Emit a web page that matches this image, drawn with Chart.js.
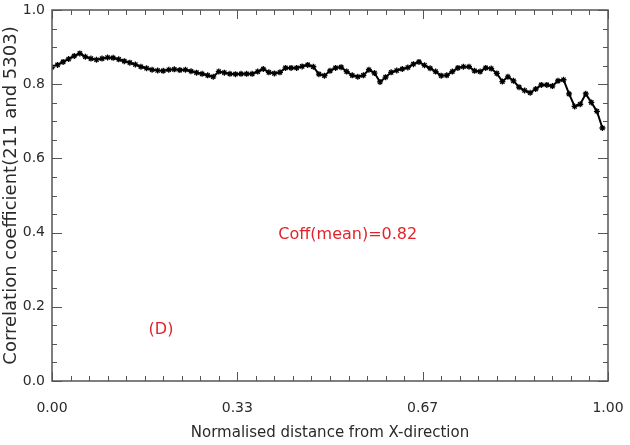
<!DOCTYPE html>
<html>
<head>
<meta charset="utf-8">
<script src="https://cdn.jsdelivr.net/npm/chart.js@4"></script>
<style>
  html, body { margin: 0; padding: 0; background: #fff; }
</style>
</head>
<body>
<canvas id="corrChart" width="630" height="445"></canvas>
<script>
const distance = [
  0.00, 0.01, 0.02, 0.03, 0.04, 0.05, 0.06, 0.07, 0.08, 0.09,
  0.10, 0.11, 0.12, 0.13, 0.14, 0.15, 0.16, 0.17, 0.18, 0.19,
  0.20, 0.21, 0.22, 0.23, 0.24, 0.25, 0.26, 0.27, 0.28, 0.29,
  0.30, 0.31, 0.32, 0.33, 0.34, 0.35, 0.36, 0.37, 0.38, 0.39,
  0.40, 0.41, 0.42, 0.43, 0.44, 0.45, 0.46, 0.47, 0.48, 0.49,
  0.50, 0.51, 0.52, 0.53, 0.54, 0.55, 0.56, 0.57, 0.58, 0.59,
  0.60, 0.61, 0.62, 0.63, 0.64, 0.65, 0.66, 0.67, 0.68, 0.69,
  0.70, 0.71, 0.72, 0.73, 0.74, 0.75, 0.76, 0.77, 0.78, 0.79,
  0.80, 0.81, 0.82, 0.83, 0.84, 0.85, 0.86, 0.87, 0.88, 0.89,
  0.90, 0.91, 0.92, 0.93, 0.94, 0.95, 0.96, 0.97, 0.98, 0.99
];

const coeff = [
  0.846, 0.852, 0.860, 0.868, 0.876, 0.883, 0.874, 0.869, 0.866, 0.869,
  0.872, 0.871, 0.867, 0.862, 0.858, 0.853, 0.847, 0.843, 0.839, 0.837,
  0.836, 0.839, 0.840, 0.838, 0.839, 0.835, 0.831, 0.828, 0.824, 0.820,
  0.834, 0.831, 0.828, 0.827, 0.828, 0.828, 0.828, 0.834, 0.841, 0.832,
  0.829, 0.832, 0.844, 0.844, 0.844, 0.848, 0.852, 0.847, 0.827, 0.823,
  0.836, 0.844, 0.846, 0.834, 0.824, 0.820, 0.824, 0.839, 0.830, 0.806,
  0.819, 0.832, 0.837, 0.841, 0.845, 0.854, 0.860, 0.851, 0.843, 0.834,
  0.823, 0.824, 0.834, 0.844, 0.847, 0.847, 0.836, 0.834, 0.844, 0.842,
  0.829, 0.807, 0.820, 0.809, 0.792, 0.783, 0.777, 0.787, 0.798, 0.798,
  0.795, 0.809, 0.812, 0.774, 0.740, 0.746, 0.774, 0.751, 0.727, 0.682
];

const xTicks = [0, 1 / 3, 2 / 3, 1];
const xTickLabels = ['0.00', '0.33', '0.67', '1.00'];
const yTicks = [0.0, 0.2, 0.4, 0.6, 0.8, 1.0];

const meanLabel = 'Coff(mean)=0.82';
const panelLabel = '(D)';

const FONT = '"DejaVu Sans", sans-serif';
const AXIS_COLOR = '#555';
const TEXT_COLOR = '#2a2a2a';
const RED = '#e3232c';

// box around the plot with inward ticks on all four sides, plus the red notes
const framePlugin = {
  id: 'frame',
  afterDraw(chart) {
    const ctx = chart.ctx;
    const xs = chart.scales.x, ys = chart.scales.y;
    const {left, right, top, bottom} = chart.chartArea;
    ctx.save();
    ctx.strokeStyle = AXIS_COLOR;
    ctx.lineWidth = 1.5;
    ctx.strokeRect(left, top, right - left, bottom - top);

    ctx.lineWidth = 1;
    ctx.beginPath();
    for (let i = 0; i <= 30; i++) {
      const px = Math.round(xs.getPixelForValue(i / 30)) + 0.5;
      const len = i % 10 === 0 ? 9 : 5;
      ctx.moveTo(px, bottom); ctx.lineTo(px, bottom - len);
      ctx.moveTo(px, top); ctx.lineTo(px, top + len);
    }
    for (let i = 0; i <= 20; i++) {
      const py = Math.round(ys.getPixelForValue(i * 0.05)) + 0.5;
      const len = i % 4 === 0 ? 10 : 5;
      ctx.moveTo(left, py); ctx.lineTo(left + len, py);
      ctx.moveTo(right, py); ctx.lineTo(right - len, py);
    }
    ctx.stroke();

    ctx.fillStyle = RED;
    ctx.font = '16px ' + FONT;
    ctx.textAlign = 'center';
    ctx.textBaseline = 'middle';
    ctx.fillText(meanLabel, xs.getPixelForValue(0.532), ys.getPixelForValue(0.394));
    ctx.fillText(panelLabel, xs.getPixelForValue(0.196), ys.getPixelForValue(0.137));
    ctx.restore();
  }
};

new Chart(document.getElementById('corrChart'), {
  type: 'line',
  data: {
    labels: distance,
    datasets: [{
      data: coeff,
      borderColor: '#000',
      borderWidth: 2,
      pointStyle: 'star',
      pointRadius: 3,
      pointBorderWidth: 1.3,
      pointBorderColor: '#000',
      pointBackgroundColor: '#000',
      tension: 0
    }]
  },
  options: {
    responsive: false,
    animation: false,
    layout: { padding: { left: 0, right: 22, top: 10, bottom: 0 } },
    plugins: {
      legend: { display: false },
      tooltip: { enabled: false }
    },
    scales: {
      x: {
        type: 'linear',
        min: 0,
        max: 1,
        afterFit(scale) {
          scale.height = 64;
          scale.paddingLeft = 0;
          scale.paddingRight = 0;
        },
        afterBuildTicks(scale) {
          scale.ticks = xTicks.map(v => ({ value: v }));
        },
        grid: { display: false, drawTicks: false },
        border: { display: false },
        ticks: {
          padding: 19,
          color: TEXT_COLOR,
          maxRotation: 0,
          font: { family: FONT, size: 14 },
          callback: (v, i) => xTickLabels[i]
        },
        title: {
          display: true,
          text: 'Normalised distance from X-direction',
          color: TEXT_COLOR,
          font: { family: FONT, size: 15 },
          padding: { top: 0, bottom: 3 }
        }
      },
      y: {
        min: 0,
        max: 1,
        afterFit(scale) {
          scale.width = 52;
          scale.paddingTop = 0;
          scale.paddingBottom = 0;
        },
        afterBuildTicks(scale) {
          scale.ticks = yTicks.map(v => ({ value: v }));
        },
        grid: { display: false, drawTicks: false },
        border: { display: false },
        ticks: {
          padding: 7,
          color: TEXT_COLOR,
          font: { family: FONT, size: 14 },
          callback: v => v.toFixed(1)
        },
        title: {
          display: true,
          text: 'Correlation coefficient(211 and 5303)',
          color: TEXT_COLOR,
          font: { family: FONT, size: 18 },
          padding: { top: 1, bottom: 0 }
        }
      }
    }
  },
  plugins: [framePlugin]
});
</script>
</body>
</html>
